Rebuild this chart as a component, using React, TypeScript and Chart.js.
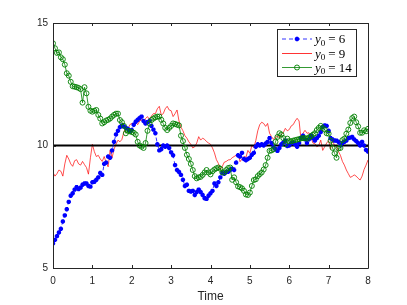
import React, { useEffect, useRef } from "react";
import { Chart, registerables } from "chart.js";

Chart.register(...registerables);

// time grid: step 0.05 from 0 to 8
const T_STEP = 0.05;
const X_TICKS = [0, 1, 2, 3, 4, 5, 6, 7, 8];
const Y_TICKS = [5, 10, 15];
const TARGET = 10;
const LABELS = ["6", "9", "14"];

const BLUE = [
  6.0, 6.15, 6.3, 6.45, 6.6, 6.9, 7.15, 7.4, 7.7, 7.95,
  8.05, 8.2, 8.3, 8.22, 8.28, 8.4, 8.45, 8.45, 8.35, 8.32,
  8.5, 8.52, 8.6, 8.7, 8.88, 8.8, 9.25, 9.3, 9.55, 9.5,
  9.8, 10.15, 10.45, 10.6, 10.75, 10.82, 10.78, 10.72, 10.68, 10.6,
  10.63, 10.85, 10.97, 11.05, 11.12, 11.18, 11.0, 10.9, 10.95, 11.0,
  10.8, 10.65, 10.5, 10.05, 9.8, 9.85, 10.0, 9.95, 10.0, 9.9,
  9.72, 9.6, 9.2, 9.0, 8.92, 8.8, 8.6, 8.35, 8.4, 8.15,
  8.12, 8.15, 7.98, 8.1, 8.2, 8.1, 7.98, 7.85, 7.82, 7.95,
  8.05, 8.15, 8.45, 8.35, 8.5, 8.7, 8.88, 8.85, 8.92, 8.93,
  9.0, 9.05, 9.0, 9.3, 9.6, 9.55, 9.7, 9.45, 9.4, 9.45,
  9.5, 9.62, 9.7, 9.95, 10.05, 10.0, 10.05, 10.0, 10.08, 10.15,
  10.3, 10.1, 9.95, 9.85, 9.78, 9.9, 10.05, 10.12, 10.2, 9.98,
  10.0, 10.1, 10.12, 10.05, 9.95, 10.1, 10.3, 10.4, 10.25, 10.1,
  10.25, 10.4, 10.3, 10.2, 10.3, 10.4, 10.55, 10.75, 10.82, 10.8,
  10.6, 10.3, 10.25, 10.2, 10.2, 10.15, 10.0, 10.1, 10.15, 10.2,
  10.3, 10.32, 10.35, 10.25, 10.18, 10.1, 10.0, 10.15, 10.0, 9.82,
  9.75,
];

const RED = [
  8.9, 8.75, 8.85, 9.0, 8.95, 8.75, 9.25, 9.6, 9.45, 9.25,
  9.15, 9.38, 9.42, 9.25, 9.2, 9.35, 9.22, 9.1, 8.83, 9.5,
  10.05, 9.75, 9.55, 9.6, 9.45, 9.35, 9.55, 9.3, 9.13, 9.8,
  9.5, 9.85, 10.05, 10.22, 10.15, 10.25, 10.55, 10.75, 10.65, 10.85,
  10.9, 10.75, 10.95, 10.85, 11.0, 11.05, 10.9, 11.1, 11.18, 11.05,
  11.2, 11.3, 11.3, 11.5, 11.6, 11.24, 11.3, 11.5, 11.6, 11.45,
  11.42, 11.18, 11.3, 11.45, 11.0, 10.75, 10.6, 10.4, 10.3, 10.15,
  10.05, 9.9, 9.95, 10.1, 10.36, 10.22, 10.3, 10.25, 10.16, 10.1,
  10.05, 9.9, 9.7, 9.42, 9.27, 9.02, 9.15, 9.32, 9.35, 9.41,
  9.42, 9.5, 9.55, 9.6, 9.68, 9.34, 9.45, 9.55, 9.52, 9.8,
  9.68, 10.0, 9.92, 10.2, 10.6, 10.85, 10.95, 10.9, 10.78, 10.9,
  10.5, 10.36, 10.25, 10.35, 10.4, 10.3, 10.45, 10.53, 10.7, 10.6,
  10.65, 10.8, 10.85, 11.0, 11.11, 11.0, 10.22, 10.5, 10.62, 10.5,
  10.52, 10.35, 10.1, 10.08, 9.95, 10.0, 10.22, 9.8, 9.95, 10.1,
  10.2, 9.85, 10.3, 9.95, 10.0, 9.75, 9.6, 9.35, 9.2, 9.0,
  8.85, 8.7, 8.74, 8.8, 8.75, 8.66, 8.59, 8.75, 9.02, 9.2,
  9.41,
];

const GREEN = [
  14.17, 13.97, 13.78, 13.8, 13.6, 13.52, 13.3, 12.95, 12.85, 12.6,
  12.42, 12.4, 12.38, 12.35, 12.3, 11.75, 12.38, 12.13, 11.58, 11.42,
  11.38, 11.42, 11.45, 11.25, 11.1, 10.9, 10.95, 11.02, 11.05, 11.1,
  11.18, 11.25, 11.3, 11.3, 11.04, 10.95, 10.8, 10.5, 10.6, 10.58,
  10.55, 10.52, 10.45, 10.15, 10.0, 9.95, 9.9, 10.1, 10.6, 10.9,
  11.04, 11.1, 11.15, 11.18, 11.18, 11.05, 10.9, 10.72, 10.63, 10.72,
  10.8, 10.9, 10.88, 10.85, 10.82, 10.4, 10.18, 9.9, 9.62, 9.45,
  9.25, 9.0, 8.75, 8.66, 8.7, 8.72, 8.8, 8.9, 9.0, 8.9,
  8.82, 8.95, 9.02, 9.07, 9.1, 9.05, 8.9, 8.9, 9.0, 9.08,
  9.1, 8.6, 8.7, 8.5, 8.33, 8.3, 8.25, 8.15, 8.0, 7.98,
  8.08, 8.35, 8.59, 8.62, 8.75, 8.83, 8.9, 9.02, 9.2, 9.5,
  9.78, 9.8, 9.85, 10.15, 10.35, 10.5, 10.45, 10.3, 10.05, 10.28,
  10.18, 10.17, 10.2, 10.22, 10.24, 10.26, 10.29, 10.3, 10.3, 10.28,
  10.33, 10.38, 10.44, 10.5, 10.63, 10.72, 10.8, 10.72, 10.65, 10.5,
  10.48, 10.2, 9.9, 9.68, 9.5, 9.88, 9.9, 10.22, 10.28, 10.48,
  10.65, 10.92, 11.12, 11.18, 10.95, 10.78, 10.52, 10.52, 10.62, 10.58,
  10.68,
];

const BLUE_C = "#0000ff";
const RED_C = "#ff0000";
const GREEN_C = "#008000";
const AXIS_C = "#262626";

function toPoints(vals: number[]) {
  return vals.map((v, i) => ({ x: Math.round(i * T_STEP * 1000) / 1000, y: v }));
}

function drawStar(ctx: CanvasRenderingContext2D, x: number, y: number, r: number) {
  ctx.beginPath();
  ctx.moveTo(x - r, y);
  ctx.lineTo(x + r, y);
  ctx.moveTo(x, y - r);
  ctx.lineTo(x, y + r);
  const d = r * 0.707;
  ctx.moveTo(x - d, y - d);
  ctx.lineTo(x + d, y + d);
  ctx.moveTo(x - d, y + d);
  ctx.lineTo(x + d, y - d);
  ctx.stroke();
}

const framePlugin = {
  id: "frame",
  afterDraw(chart: any) {
    const { ctx, chartArea, scales } = chart;
    const { left, right, top, bottom } = chartArea;
    ctx.save();
    ctx.strokeStyle = AXIS_C;
    ctx.lineWidth = 1;
    ctx.beginPath();
    ctx.rect(Math.round(left) + 0.5, Math.round(top) + 0.5, Math.round(right - left), Math.round(bottom - top));
    ctx.stroke();
    const tl = 3;
    ctx.beginPath();
    X_TICKS.forEach((t) => {
      const x = Math.round(scales.x.getPixelForValue(t)) + 0.5;
      ctx.moveTo(x, bottom);
      ctx.lineTo(x, bottom - tl);
      ctx.moveTo(x, top);
      ctx.lineTo(x, top + tl);
    });
    Y_TICKS.forEach((v) => {
      const y = Math.round(scales.y.getPixelForValue(v)) + 0.5;
      ctx.moveTo(left, y);
      ctx.lineTo(left + tl, y);
      ctx.moveTo(right, y);
      ctx.lineTo(right - tl, y);
    });
    ctx.stroke();

    // legend box
    const bx = 277, by = 29, bw = 79, bh = 47;
    ctx.fillStyle = "#ffffff";
    ctx.fillRect(bx, by, bw, bh);
    ctx.strokeStyle = AXIS_C;
    ctx.lineWidth = 1;
    ctx.strokeRect(bx + 0.5, by + 0.5, bw, bh);

    const rows = [39, 53.5, 67.5];
    const colors = [BLUE_C, RED_C, GREEN_C];
    const lx0 = 282, lx1 = 312, mx = 297;
    rows.forEach((ry, i) => {
      ctx.strokeStyle = colors[i];
      ctx.lineWidth = 0.8;
      ctx.setLineDash(i === 0 ? [4, 3] : []);
      ctx.beginPath();
      ctx.moveTo(lx0, ry);
      ctx.lineTo(lx1, ry);
      ctx.stroke();
      ctx.setLineDash([]);
      if (i === 0) {
        ctx.lineWidth = 1.8;
        drawStar(ctx, mx, ry, 2.2);
      } else if (i === 2) {
        ctx.lineWidth = 0.9;
        ctx.beginPath();
        ctx.arc(mx, ry, 2.5, 0, Math.PI * 2);
        ctx.stroke();
      }
      let x = 315;
      ctx.fillStyle = "#000000";
      ctx.textBaseline = "alphabetic";
      ctx.textAlign = "left";
      const base = ry + 4;
      ctx.font = "italic 13px 'Liberation Serif'";
      ctx.fillText("y", x, base);
      x += ctx.measureText("y").width;
      ctx.font = "9px 'Liberation Serif'";
      ctx.fillText("0", x, base + 2.5);
      x += ctx.measureText("0").width + 3;
      ctx.font = "13px 'Liberation Serif'";
      ctx.fillText("= " + LABELS[i], x, base);
    });
    ctx.restore();
  },
};

export default function App() {
  const ref = useRef<HTMLCanvasElement>(null);
  useEffect(() => {
    if (!ref.current) return;
    const chart = new Chart(ref.current, {
      type: "line",
      data: {
        datasets: [
          {
            label: "y0 = 6",
            data: toPoints(BLUE),
            borderColor: BLUE_C,
            borderWidth: 0.8,
            borderDash: [4, 3],
            pointStyle: "star",
            pointRadius: 2.2,
            pointBorderWidth: 1.6,
            pointBorderColor: BLUE_C,
            pointBackgroundColor: BLUE_C,
            tension: 0,
            order: 1,
          },
          {
            label: "y0 = 9",
            data: toPoints(RED),
            borderColor: RED_C,
            borderWidth: 0.7,
            pointRadius: 0,
            tension: 0,
            order: 3,
          },
          {
            label: "y0 = 14",
            data: toPoints(GREEN),
            borderColor: GREEN_C,
            borderWidth: 0.8,
            pointStyle: "circle",
            pointRadius: 2.5,
            pointBorderWidth: 0.9,
            pointBorderColor: GREEN_C,
            pointBackgroundColor: "rgba(0,0,0,0)",
            tension: 0,
            order: 0,
          },
          {
            label: "target",
            data: [
              { x: 0, y: TARGET },
              { x: 8, y: TARGET },
            ],
            borderColor: "#000000",
            borderWidth: 2,
            pointRadius: 0,
            order: 2,
          },
        ],
      },
      options: {
        responsive: false,
        animation: false,
        events: [],
        layout: { padding: { top: 23, right: 39, left: 0, bottom: 0 } },
        plugins: { legend: { display: false }, tooltip: { enabled: false } },
        scales: {
          x: {
            type: "linear",
            min: 0,
            max: 8,
            afterBuildTicks: (s: any) => {
              s.ticks = X_TICKS.map((v) => ({ value: v }));
            },
            ticks: {
              color: AXIS_C,
              font: { family: "'Liberation Sans'", size: 10 },
              padding: 7,
              maxRotation: 0,
            },
            grid: { display: false, drawTicks: false },
            border: { display: false },
            title: {
              display: true,
              text: "Time",
              color: AXIS_C,
              font: { family: "'Liberation Sans'", size: 12 },
              padding: { top: 0, bottom: 1 },
            },
            afterFit: (s: any) => {
              s.height = 37;
            },
          },
          y: {
            type: "linear",
            min: 5,
            max: 15,
            afterBuildTicks: (s: any) => {
              s.ticks = Y_TICKS.map((v) => ({ value: v }));
            },
            ticks: {
              color: AXIS_C,
              font: { family: "'Liberation Sans'", size: 10 },
              padding: 5,
            },
            grid: { display: false, drawTicks: false },
            border: { display: false },
            afterFit: (s: any) => {
              s.width = 53;
            },
          },
        },
      },
      plugins: [framePlugin],
    });
    return () => chart.destroy();
  }, []);
  return (
    <div style={{ position: "fixed", left: 0, top: 0, width: 407, height: 305, background: "#fff" }}>
      <canvas ref={ref} width={407} height={305} style={{ display: "block" }} />
    </div>
  );
}
